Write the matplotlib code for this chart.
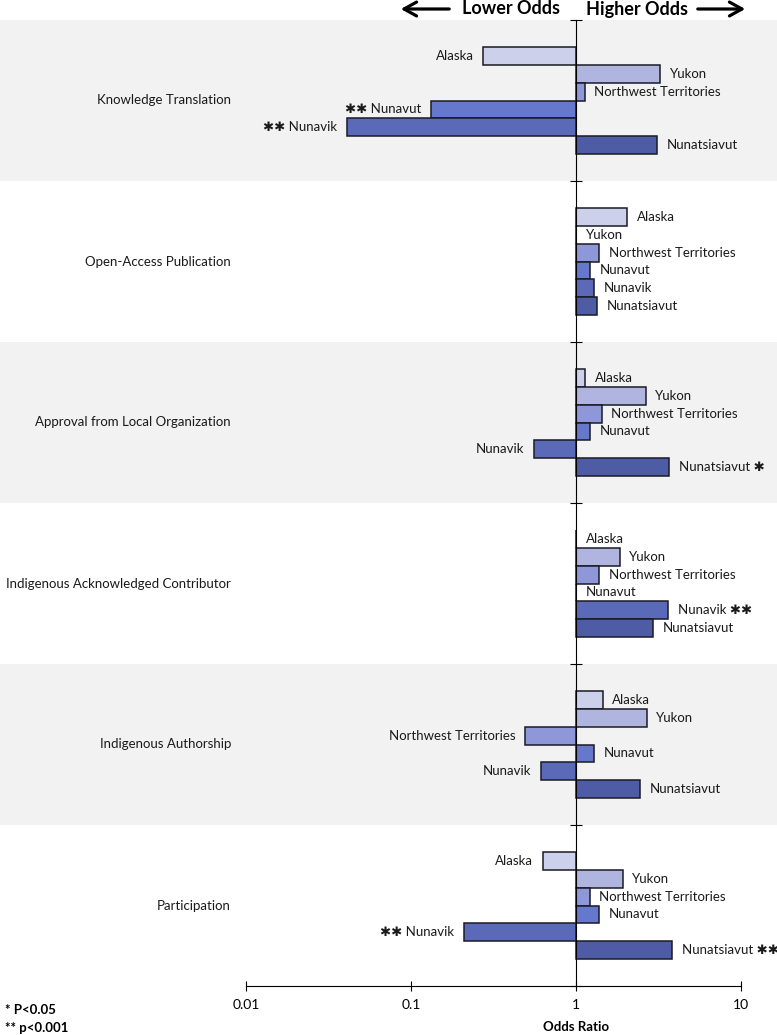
import matplotlib
matplotlib.use('Agg')
import matplotlib.pyplot as plt
import matplotlib.transforms as mtransforms
import numpy as np

plt.rcParams['font.family'] = ['Lato', 'DejaVu Sans']

# categories (top to bottom)
groups = ['Knowledge Translation', 'Open-Access Publication',
          'Approval from Local Organization', 'Indigenous Acknowledged Contributor',
          'Indigenous Authorship', 'Participation']
regions = ['Alaska', 'Yukon', 'Northwest Territories', 'Nunavut', 'Nunavik', 'Nunatsiavut']

# odds ratios, one list per category, in region order
odds_knowledge = [0.275, 3.25, 1.13, 0.132, 0.041, 3.08]
odds_open_access = [2.03, 1.0, 1.38, 1.21, 1.28, 1.34]
odds_approval = [1.13, 2.64, 1.43, 1.21, 0.56, 3.68]
odds_contributor = [1.0, 1.84, 1.38, 1.0, 3.63, 2.91]
odds_authorship = [1.45, 2.68, 0.49, 1.28, 0.61, 2.43]
odds_participation = [0.63, 1.92, 1.21, 1.38, 0.21, 3.84]

# significance markers
sig_knowledge = ['', '', '', '**', '**', '']
sig_open_access = ['', '', '', '', '', '']
sig_approval = ['', '', '', '', '', '*']
sig_contributor = ['', '', '', '', '**', '']
sig_authorship = ['', '', '', '', '', '']
sig_participation = ['', '', '', '', '**', '**']

odds = [odds_knowledge, odds_open_access, odds_approval,
        odds_contributor, odds_authorship, odds_participation]
sigs = [sig_knowledge, sig_open_access, sig_approval,
        sig_contributor, sig_authorship, sig_participation]

colors = ['#cdd0ea', '#b0b5e0', '#8e97d8', '#6678cc', '#5a6ab8', '#4d5ca5']

W, H = 777, 1035
fig = plt.figure(figsize=(W / 100, H / 100), dpi=100)
ax_l, ax_r, ax_top, ax_bot = 246, 741, 20, 986
ax = fig.add_axes([ax_l / W, 1 - ax_bot / H, (ax_r - ax_l) / W, (ax_bot - ax_top) / H])
ax.set_xscale('log')
ax.set_xlim(0.01, 10)
band_h = 9
ax.set_ylim(band_h * len(groups), 0)

axw = ax_r - ax_l
trans_lab = mtransforms.blended_transform_factory(ax.transAxes, ax.transData)


def stars(m):
    return m.replace('*', '\u2731')


for g, (vals, marks) in enumerate(zip(odds, sigs)):
    top = g * band_h
    if g % 2 == 0:
        band = ax.axhspan(top, top + band_h, xmin=-ax_l / axw, xmax=(W - ax_l) / axw,
                          color='#f2f2f2', zorder=0, lw=0)
        band.set_clip_on(False)
    ys = top + 2 + np.arange(len(regions))
    vals = np.array(vals)
    ax.barh(ys, vals - 1, left=1, height=1.0, color=colors,
            edgecolor='#1a1a24', linewidth=1.1, zorder=2)
    for y, v, name, m in zip(ys, vals, regions, marks):
        if v >= 1:
            txt = name + (' ' + stars(m) if m else '')
            ax.annotate(txt, (v, y), xytext=(7, 0), textcoords='offset points',
                        ha='left', va='center', fontsize=9.5, color='#1a1a1a', zorder=3)
        else:
            txt = (stars(m) + ' ' if m else '') + name
            ax.annotate(txt, (v, y), xytext=(-7, 0), textcoords='offset points',
                        ha='right', va='center', fontsize=9.5, color='#1a1a1a', zorder=3)
    ax.text(-15 / axw, top + band_h / 2, groups[g], transform=trans_lab,
            ha='right', va='center', fontsize=9.5, color='#1a1a1a')

# axes styling
for s in ['top', 'right']:
    ax.spines[s].set_visible(False)
ax.spines['left'].set_position(('data', 1))
ax.spines['left'].set_zorder(4)
ax.set_yticks(np.arange(0, band_h * len(groups) + 1, band_h))
ax.tick_params(axis='y', direction='inout', length=8, labelleft=False)
ax.set_xticks([0.01, 0.1, 1, 10])
ax.set_xticklabels(['0.01', '0.1', '1', '10'])
ax.minorticks_off()
ax.tick_params(axis='x', direction='inout', length=7, labelsize=10, pad=6)
trans_x = mtransforms.blended_transform_factory(ax.transData, fig.transFigure)
ax.text(1, 1 - 1027 / H, 'Odds Ratio', transform=trans_x, ha='center', va='center',
        fontsize=9.5, fontweight='bold')

# header arrows
hy = 1 - 9 / H
fig.text(560 / W, hy, 'Lower Odds', ha='right', va='center', fontsize=13, fontweight='bold')
fig.text(586 / W, hy, 'Higher Odds', ha='left', va='center', fontsize=13, fontweight='bold')
for x0, x1 in [(452, 398), (695, 748)]:
    fig.patches.append(matplotlib.patches.FancyArrowPatch(
        (x0 / W, hy), (x1 / W, hy), transform=fig.transFigure,
        arrowstyle='->,head_length=0.9,head_width=0.5', lw=2.3, color='black',
        mutation_scale=10))

# footnote
fig.text(5 / W, 1 - 1010 / H, '* P<0.05', ha='left', va='center', fontsize=9.5, fontweight='bold')
fig.text(5 / W, 1 - 1028 / H, '** p<0.001', ha='left', va='center', fontsize=9.5, fontweight='bold')

fig.savefig('out.png', dpi=100)
